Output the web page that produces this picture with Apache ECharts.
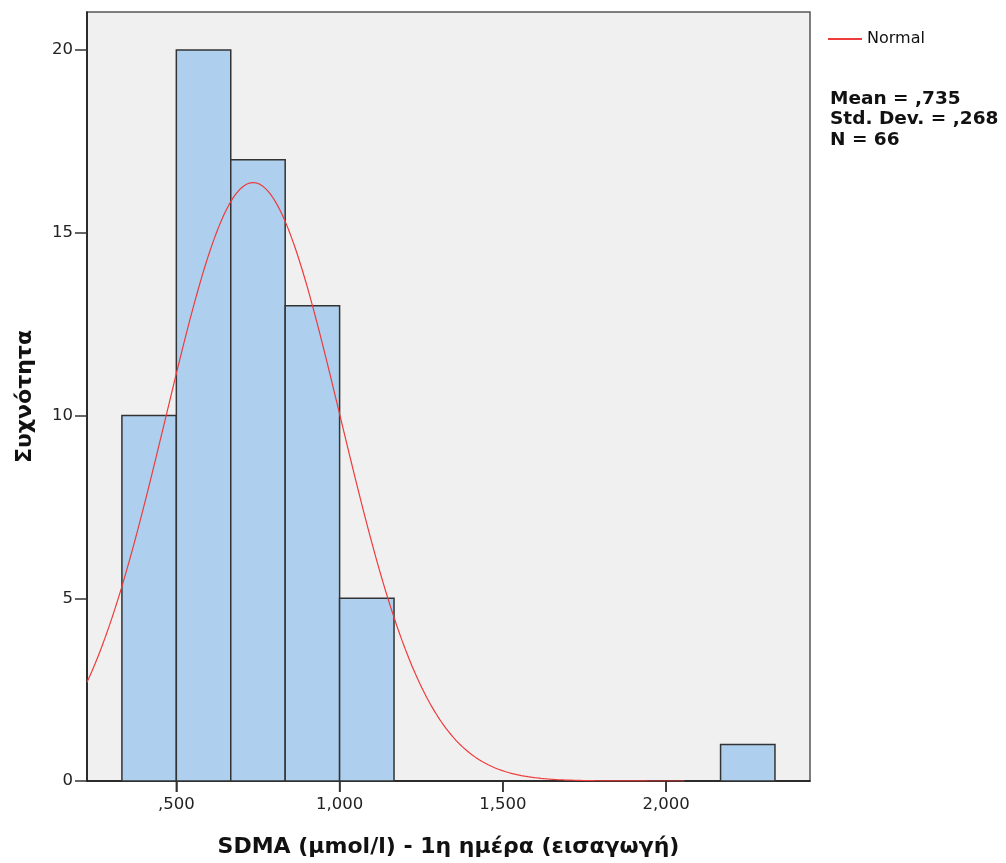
<!DOCTYPE html>
<html>
<head>
<meta charset="utf-8">
<script src="https://cdn.jsdelivr.net/npm/echarts@6/dist/echarts.min.js"></script>
<style>
  html, body { margin: 0; padding: 0; background: #ffffff; }
  #chart { width: 1006px; height: 863px; }
</style>
</head>
<body>
<div id="chart"></div>
<script>
// Histogram bins: first bin starts at binStart, every bin is binWidth wide
const binStart = 1 / 3;
const binWidth = 1 / 6;
const binCounts = [10, 20, 17, 13, 5, 0, 0, 0, 0, 0, 0, 1];

// Summary statistics shown beside the plot
const statMean = 0.735;
const statSD = 0.268;
const statN = 66;

// Axis ranges and tick positions
const xRange = [0.2264, 2.4406];
const xTicks = [0.5, 1.0, 1.5, 2.0];
const yRange = [0, 21.04];
const yTicks = [0, 5, 10, 15, 20];
const curveRange = [0.2264, 2.06];

const FONT = '"DejaVu Sans", "Liberation Sans", Arial, sans-serif';

// Bars as [low edge, high edge, count]
const bars = [];
binCounts.forEach((c, i) => {
  if (c > 0) {
    const lo = binStart + i * binWidth;
    bars.push([lo, lo + binWidth, c]);
  }
});

// Fitted normal curve scaled to frequency (N * bin width * density)
const curve = [];
for (let x = curveRange[0]; x <= curveRange[1] + 1e-9; x += 0.005) {
  const z = (x - statMean) / statSD;
  const y = statN * binWidth * Math.exp(-0.5 * z * z) / (statSD * Math.sqrt(2 * Math.PI));
  curve.push([x, y]);
}

// SPSS-style number format: comma decimal, no leading zero
function fmtX(v) {
  let s = v.toFixed(3).replace('.', ',');
  if (s.startsWith('0,')) s = s.slice(1);
  return s;
}

const chart = echarts.init(document.getElementById('chart'), null, { renderer: 'canvas' });

chart.setOption({
  animation: false,
  backgroundColor: '#ffffff',
  grid: {
    left: 87, top: 12, right: 196, bottom: 81,
    show: true,
    backgroundColor: '#f0f0f0',
    borderColor: '#555555',
    borderWidth: 1.5
  },
  legend: {
    left: 828, top: 31, padding: 0,
    itemWidth: 34, itemHeight: 2, itemGap: 5,
    data: [{ name: 'Normal', icon: 'rect' }],
    textStyle: { fontFamily: FONT, fontSize: 16, color: '#111111', padding: [0, 0, 0, 0] }
  },
  xAxis: {
    type: 'value',
    min: xRange[0], max: xRange[1],
    splitLine: { show: false },
    axisLine: { show: true, onZero: false, lineStyle: { color: '#111111', width: 1.5 } },
    axisTick: { show: true, inside: false, length: 11, customValues: xTicks, lineStyle: { color: '#333333', width: 1.5 } },
    axisLabel: {
      customValues: xTicks, formatter: fmtX, margin: 15,
      fontFamily: FONT, fontSize: 16.5, color: '#222222'
    },
    name: 'SDMA (μmol/l) - 1η ημέρα (εισαγωγή)',
    nameLocation: 'middle', nameGap: 55,
    nameTextStyle: { fontFamily: FONT, fontSize: 22, fontWeight: 'bold', color: '#111111' }
  },
  yAxis: {
    type: 'value',
    min: yRange[0], max: yRange[1],
    splitLine: { show: false },
    axisLine: { show: true, lineStyle: { color: '#111111', width: 1.5 } },
    axisTick: { show: true, inside: false, length: 12, customValues: yTicks, lineStyle: { color: '#333333', width: 1.5 } },
    axisLabel: {
      customValues: yTicks, margin: 14,
      fontFamily: FONT, fontSize: 16.5, color: '#222222'
    },
    name: 'Συχνότητα',
    nameLocation: 'middle', nameGap: 51,
    nameTextStyle: { fontFamily: FONT, fontSize: 22, fontWeight: 'bold', color: '#111111' }
  },
  graphic: [{
    type: 'text',
    left: 830, top: 89,
    style: {
      text: 'Mean = ' + fmtX(statMean) + '\nStd. Dev. = ' + fmtX(statSD) + '\nN = ' + statN,
      font: 'bold 18.5px ' + FONT,
      lineHeight: 20.3,
      fill: '#111111'
    }
  }],
  series: [
    {
      name: 'Histogram',
      type: 'custom',
      data: bars,
      encode: { x: [0, 1], y: 2 },
      renderItem: function (params, api) {
        const p0 = api.coord([api.value(0), api.value(2)]);
        const p1 = api.coord([api.value(1), 0]);
        return {
          type: 'rect',
          shape: { x: p0[0], y: p0[1], width: p1[0] - p0[0], height: p1[1] - p0[1] },
          style: { fill: '#aed0ee', stroke: '#333333', lineWidth: 1.5 }
        };
      },
      z: 2
    },
    {
      name: 'Normal',
      type: 'line',
      data: curve,
      showSymbol: false,
      symbol: 'none',
      smooth: false,
      lineStyle: { color: '#ee3b3b', width: 1.2 },
      itemStyle: { color: '#ee3b3b' },
      z: 3
    },
    {
      // Outward tick marks under the x axis at the labelled values
      name: 'xTickMarks',
      type: 'custom',
      clip: false,
      silent: true,
      data: xTicks.map(v => [v]),
      encode: { x: 0 },
      renderItem: function (params, api) {
        const p = api.coord([api.value(0), yRange[0]]);
        return {
          type: 'line',
          shape: { x1: p[0], y1: p[1], x2: p[0], y2: p[1] + 11 },
          style: { stroke: '#333333', lineWidth: 1.5 }
        };
      },
      z: 4
    }
  ]
});
</script>
</body>
</html>
